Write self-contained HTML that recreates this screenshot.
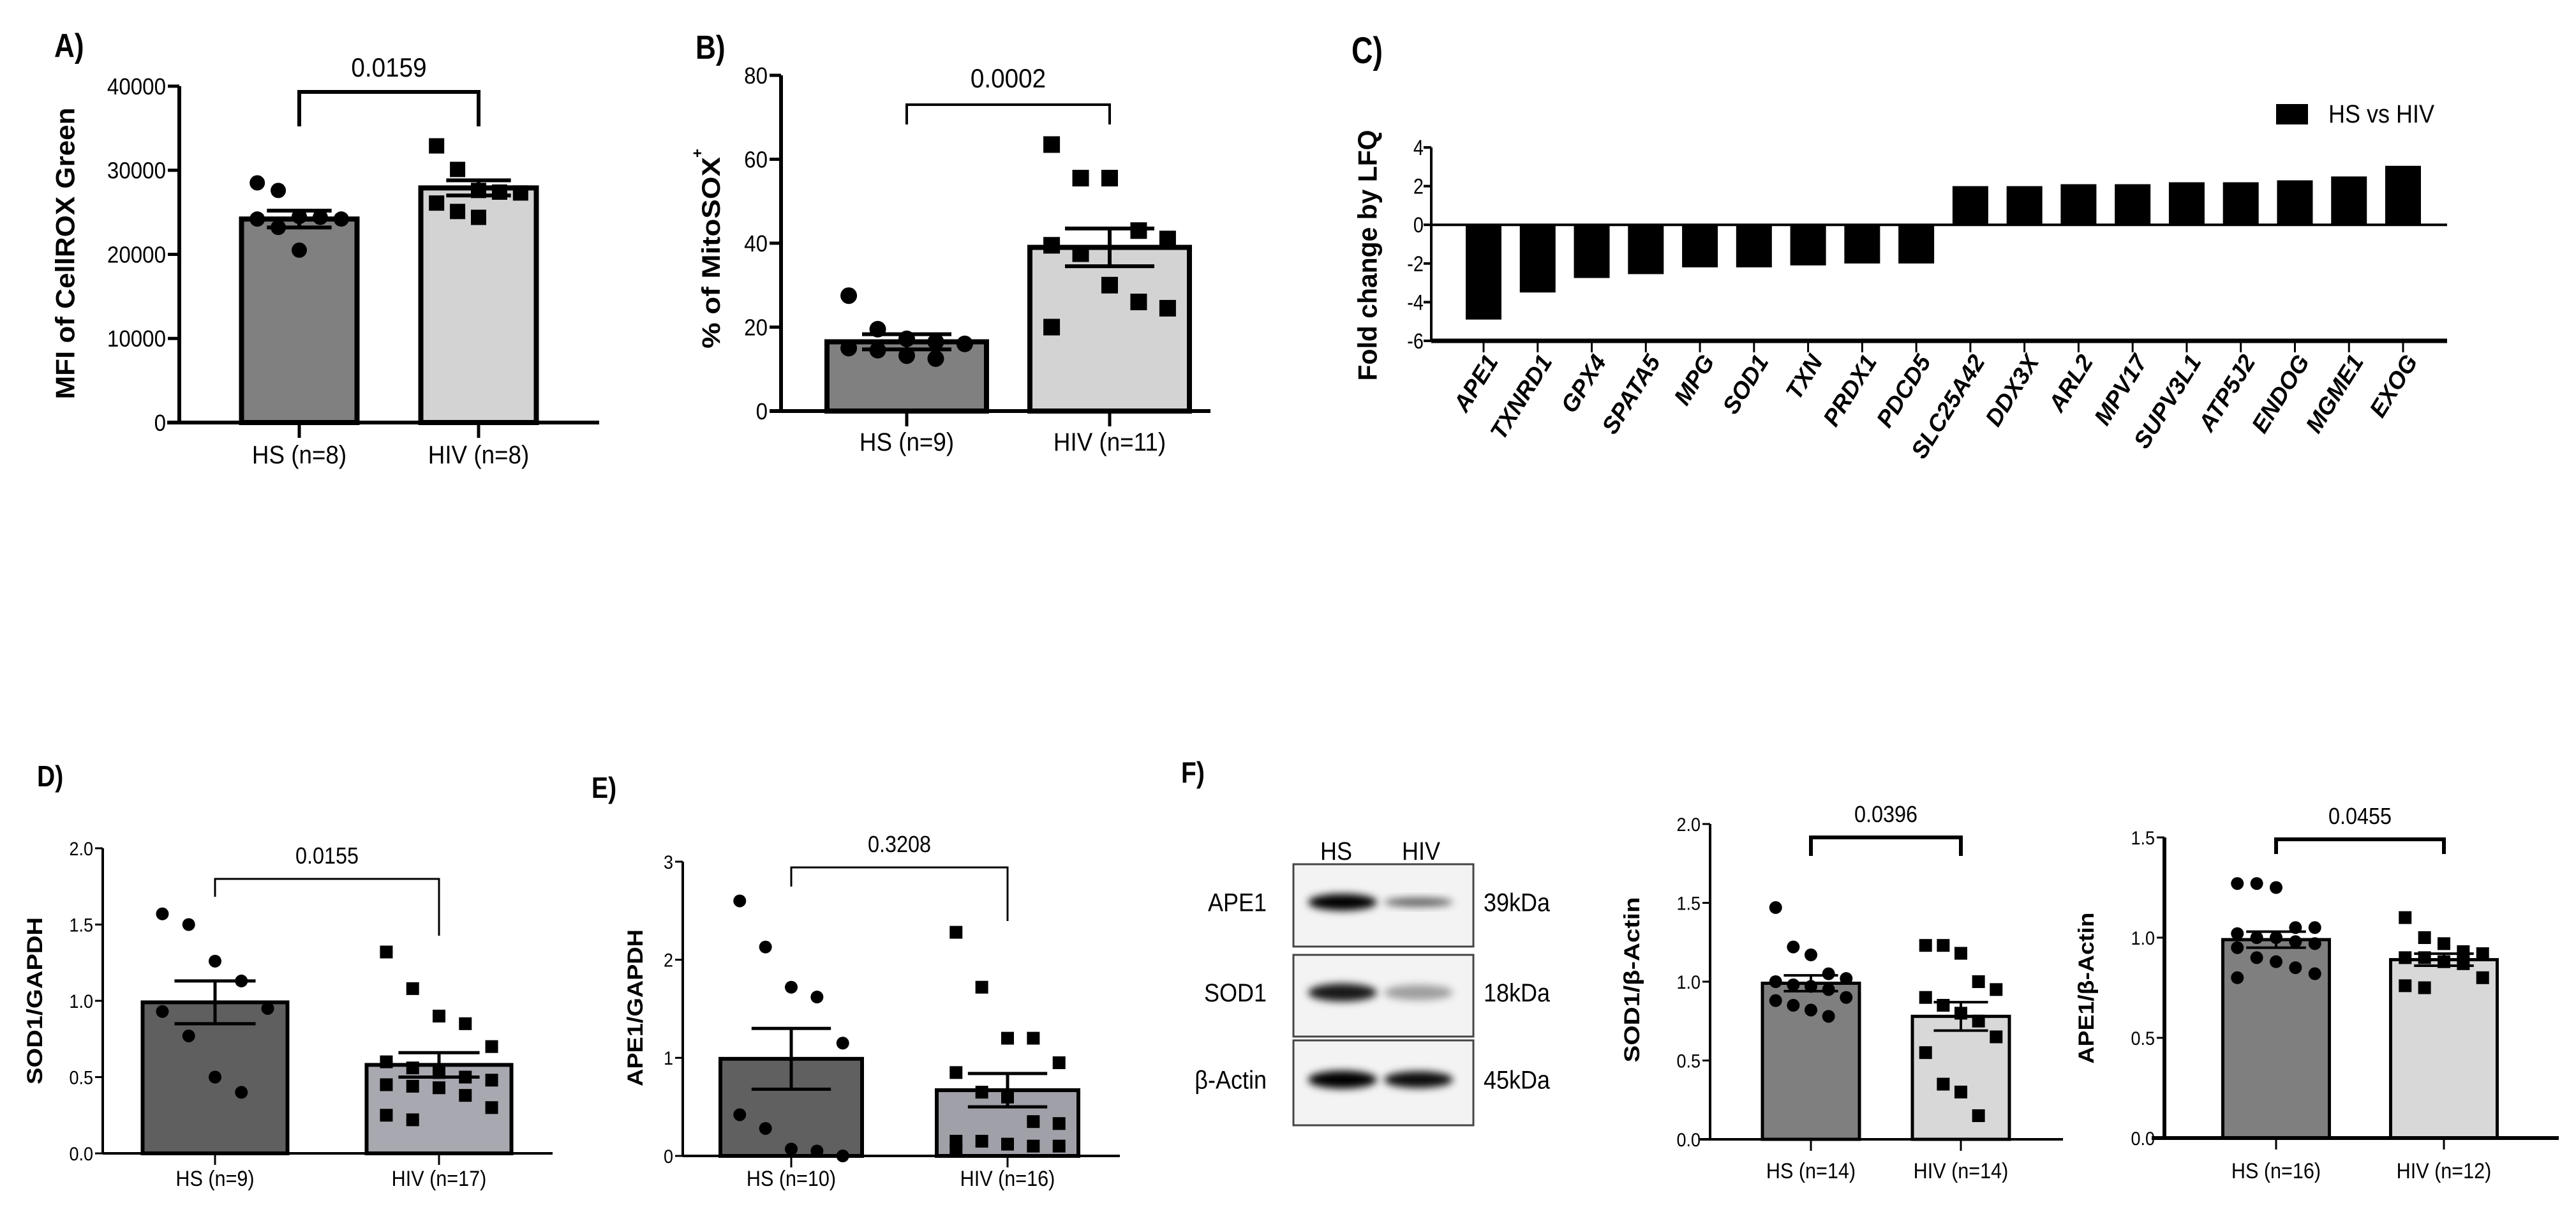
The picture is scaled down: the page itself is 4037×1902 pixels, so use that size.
<!DOCTYPE html>
<html><head><meta charset="utf-8"><style>
html,body{margin:0;padding:0;background:#fff;overflow:hidden;}
svg{display:block;}
text{font-family:"Liberation Sans",sans-serif;fill:#000;}
</style></head><body>
<svg id="fig" width="4037" height="1902" viewBox="0 0 4037 1902" xmlns="http://www.w3.org/2000/svg">
<defs><filter id="blur" x="-20%" y="-60%" width="140%" height="220%"><feGaussianBlur stdDeviation="6"/></filter></defs>
</svg>
<script>
// ---------- data ----------
const aCategories=['HS (n=8)','HIV (n=8)'];
const aMeans=[24200,27900];
const aSEM=[1000,900];
const aHS=[28500,27600,24500,24400,24200,24200,23200,20500];
const aHIV=[32900,30100,27600,27400,27300,26100,25100,24400];
const aTicks=[0,10000,20000,30000,40000];
const aP='0.0159';

const bCategories=['HS (n=9)','HIV (n=11)'];
const bMeans=[16.5,39.0];
const bSEM=[1.8,4.5];
const bHS=[27.5,19.5,17.2,16.5,16.0,15.0,14.5,13.2,12.5];
const bHIV=[63.5,55.5,55.5,43.0,41.0,39.5,37.5,30.0,26.0,24.5,20.0];
const bTicks=[0,20,40,60,80];
const bP='0.0002';

const cGenes=['APE1','TXNRD1','GPX4','SPATA5','MPG','SOD1','TXN','PRDX1','PDCD5','SLC25A42','DDX3X','ARL2','MPV17','SUPV3L1','ATP5J2','ENDOG','MGME1','EXOG'];
const cFold=[-4.9,-3.5,-2.75,-2.55,-2.2,-2.2,-2.1,-2.0,-2.0,2.0,2.0,2.1,2.1,2.2,2.2,2.3,2.5,3.05];
const cTicks=[-6,-4,-2,0,2,4];

const dCategories=['HS (n=9)','HIV (n=17)'];
const dMeans=[0.99,0.58];
const dSEM=[0.14,0.08];
const dHS=[1.57,1.5,1.26,1.13,0.95,0.93,0.77,0.5,0.4];
const dHIV=[1.32,1.08,0.9,0.85,0.7,0.6,0.56,0.53,0.5,0.48,0.45,0.44,0.43,0.38,0.3,0.25,0.22];
const dTicks=[0,0.5,1.0,1.5,2.0];
const dP='0.0155';

const eCategories=['HS (n=10)','HIV (n=16)'];
const eMeans=[0.99,0.67];
const eSEM=[0.31,0.17];
const eHS=[2.6,2.13,1.72,1.62,1.15,0.42,0.28,0.07,0.05,0.0];
const eHIV=[2.28,1.72,1.2,1.2,0.95,0.85,0.65,0.6,0.35,0.33,0.15,0.15,0.12,0.1,0.1,0.05];
const eTicks=[0,1,2,3];
const eP='0.3208';

const f1Categories=['HS (n=14)','HIV (n=14)'];
const f1Means=[0.99,0.78];
const f1SEM=[0.05,0.09];
const f1HS=[1.47,1.22,1.17,1.05,1.02,1.0,0.98,0.97,0.95,0.9,0.88,0.85,0.82,0.78];
const f1HIV=[1.23,1.23,1.18,1.0,0.95,0.9,0.85,0.8,0.75,0.65,0.55,0.35,0.3,0.15];
const f1Ticks=[0,0.5,1.0,1.5,2.0];
const f1P='0.0396';

const f2Categories=['HS (n=16)','HIV (n=12)'];
const f2Means=[0.99,0.89];
const f2SEM=[0.04,0.03];
const f2HS=[1.27,1.27,1.25,1.05,1.05,1.02,1.0,1.0,0.98,0.97,0.95,0.9,0.88,0.85,0.82,0.8];
const f2HIV=[1.1,1.0,0.97,0.93,0.92,0.9,0.9,0.88,0.87,0.8,0.76,0.75];
const f2Ticks=[0,0.5,1.0,1.5];
const f2P='0.0455';

// ---------- helpers ----------
const svg=document.getElementById('fig');
const NS='http://www.w3.org/2000/svg';
function mk(tag,attrs,parent){const e=document.createElementNS(NS,tag);for(const k in attrs)e.setAttribute(k,attrs[k]);(parent||svg).appendChild(e);return e;}
function ctext(g,x,y,str,size,sx,anchor,weight){
  const t=mk('text',{transform:`translate(${x},${y}) scale(${sx},1)`,'font-size':size,'text-anchor':anchor||'middle','font-weight':weight||'normal'},g);
  t.textContent=str;return t;
}
function ylabel(g,x,cy,str,size,len){
  const t=mk('text',{transform:`translate(${x},${cy}) rotate(-90)`,'font-size':size,'text-anchor':'middle','dominant-baseline':'central','font-weight':'bold',textLength:len,lengthAdjust:'spacingAndGlyphs'},g);
  t.textContent=str;return t;
}
function fmt(v,dec){return dec?v.toFixed(dec):String(v);}

function barPanel(name,G,cats,means,sems,hs,hiv,ticks,p){
  const g=mk('g',{});
  
  
  const vmin=ticks[0],vmax=ticks[ticks.length-1];
  const Y=v=>G.base-(v-vmin)/(vmax-vmin)*(G.base-G.top);
  [0,1].forEach(i=>{
    const r=mk('rect',{x:G.centers[i]-G.barW/2,y:Y(means[i]),width:G.barW,height:G.base-Y(means[i]),fill:G.fills[i],stroke:'#000','stroke-width':G.bs},g);
    
    
  });
  [hs,hiv].forEach((vals,i)=>{
    vals.forEach((v,k)=>{
      const off=((k%5)-2)*G.barW/5.5;
      const cx=G.centers[i]+off, cy=Y(v);
      let m;
      if(i===0) m=mk('circle',{cx:cx,cy:cy,r:G.r,fill:'#000'},g);
      else m=mk('rect',{x:cx-G.r,y:cy-G.r,width:2*G.r,height:2*G.r,fill:'#000'},g);
      
      
    });
  });
  [0,1].forEach(i=>{
    const c=G.centers[i],w=G.barW*0.28;
    const e=mk('path',{d:`M${c},${Y(means[i]-sems[i])}V${Y(means[i]+sems[i])}M${c-w},${Y(means[i]+sems[i])}H${c+w}M${c-w},${Y(means[i]-sems[i])}H${c+w}`,stroke:'#000','stroke-width':G.es,fill:'none'},g);
    
    
  });
  const ax=mk('path',{d:`M${G.axisX},${G.top}V${G.base}M${G.xa[0]},${G.base}H${G.xa[1]}`,stroke:'#000','stroke-width':G.as,fill:'none'},g);
  
  
  ticks.forEach(t=>{
    mk('line',{x1:G.axisX-G.tl,x2:G.axisX,y1:Y(t),y2:Y(t),stroke:'#000','stroke-width':G.ts},g);
    const lb=ctext(g,G.axisX-G.tl-3,Y(t)+G.tf*0.36,fmt(t,G.dec),G.tf,G.tsx,'end');
    
    
  });
  [0,1].forEach(i=>{
    mk('line',{x1:G.centers[i],x2:G.centers[i],y1:G.base,y2:G.base+G.tl+6,stroke:'#000','stroke-width':G.ts},g);
    const lb=ctext(g,G.centers[i],G.xly,cats[i],G.xf,G.tsx,'middle');
    
    
  });
  const br=mk('path',{d:`M${G.centers[0]},${G.legs[0]}V${G.by}H${G.centers[1]}V${G.legs[1]}`,stroke:'#000','stroke-width':G.bks,fill:'none'},g);
  
  
  const pt=ctext(g,(G.centers[0]+G.centers[1])/2,G.py,p,G.pf,G.tsx,'middle');
  
  
  const yl=ylabel(g,G.ylx,G.ylc,G.yl,G.ylf,G.yll);
  
  
  if(G.letter){
    const lt=ctext(g,G.letter[0],G.letter[1],G.letter[2],G.letter[3],0.85,'start','bold');
    
    
  }
  return g;
}

// A
barPanel('panel-a',{axisX:281,base:662,top:135,centers:[469,750],barW:181,xa:[262,939],fills:['#808080','#d3d3d3'],bs:8,es:6,as:6,ts:5,tl:18,r:12,tf:36,tsx:0.92,dec:0,xly:726,xf:40,by:144,legs:[198,198],bks:6,py:120,pf:42,ylx:102,ylc:397,yl:'MFI of CellROX  Green',ylf:42,yll:457,letter:[85,89,'A)',52]},aCategories,aMeans,aSEM,aHS,aHIV,aTicks,aP);
// B
const pb=barPanel('panel-b',{axisX:1224,base:644,top:118,centers:[1421,1739],barW:250,xa:[1206,1897],fills:['#808080','#d3d3d3'],bs:8,es:6,as:6,ts:5,tl:18,r:13,tf:36,tsx:0.92,dec:0,xly:706,xf:40,by:164,legs:[195,195],bks:4,py:137,pf:42,ylx:1115,ylc:396,yl:'%  of  MitoSOX',ylf:40,yll:300,letter:[1090,92,'B)',52]},bCategories,bMeans,bSEM,bHS,bHIV,bTicks,bP);
const sup=mk('text',{transform:'translate(1101,240) rotate(-90)','font-size':24,'font-weight':'bold','text-anchor':'middle'},pb);
sup.textContent='+';


// D
barPanel('panel-d',{axisX:161,base:1807,top:1329,centers:[337,688],barW:227,xa:[161,866],fills:['#5f5f5f','#a8a8b0'],bs:6,es:5,as:4,ts:3,tl:12,r:10,tf:30,tsx:0.9,dec:1,xly:1858,xf:34,by:1377,legs:[1405,1466],bks:3,py:1353,pf:36,ylx:55,ylc:1568,yl:'SOD1/GAPDH',ylf:34,yll:262,letter:[58,1232,'D)',46]},dCategories,dMeans,dSEM,dHS,dHIV,dTicks,dP);
// E
barPanel('panel-e',{axisX:1070,base:1811,top:1350,centers:[1240,1579],barW:222,xa:[1070,1755],fills:['#606060','#a0a0a8'],bs:6,es:5,as:4,ts:3,tl:12,r:10,tf:30,tsx:0.9,dec:0,xly:1858,xf:34,by:1359,legs:[1389,1443],bks:3,py:1335,pf:36,ylx:996,ylc:1579,yl:'APE1/GAPDH',ylf:34,yll:246,letter:[927,1250,'E)',46]},eCategories,eMeans,eSEM,eHS,eHIV,eTicks,eP);
// F1
barPanel('panel-f-sod1',{axisX:2680,base:1785,top:1291,centers:[2838,3073],barW:152,xa:[2663,3233],fills:['#7f7f7f','#d8d8d8'],bs:5,es:4,as:4,ts:3,tl:12,r:10,tf:30,tsx:0.9,dec:1,xly:1846,xf:34,by:1312,legs:[1341,1341],bks:6,py:1288,pf:36,ylx:2558,ylc:1535,yl:'SOD1/β-Actin',ylf:34,yll:259},f1Categories,f1Means,f1SEM,f1HS,f1HIV,f1Ticks,f1P);
// F2
barPanel('panel-f-ape1',{axisX:3392,base:1783,top:1312,centers:[3567,3830],barW:167,xa:[3372,4010],fills:['#7f7f7f','#d8d8d8'],bs:5,es:4,as:6,ts:3,tl:12,r:10,tf:30,tsx:0.9,dec:1,xly:1846,xf:34,by:1315,legs:[1338,1338],bks:6,py:1291,pf:36,ylx:3270,ylc:1548,yl:'APE1/β-Actin',ylf:34,yll:237},f2Categories,f2Means,f2SEM,f2HS,f2HIV,f2Ticks,f2P);

// ---------- Panel C ----------
(function(){
  const g=mk('g',{});
  
  
  const axisX=2243,top=231,base=534,vmin=cTicks[0],vmax=cTicks[cTicks.length-1];
  const Y=v=>base-(v-vmin)/(vmax-vmin)*(base-top);
  const x0=2325,step=(3766-2325)/(cGenes.length-1),bw=56;
  const X=i=>x0+i*step;
  cFold.forEach((v,i)=>{
    const y1=Math.min(Y(v),Y(0)),h=Math.abs(Y(v)-Y(0));
    const r=mk('rect',{x:X(i)-bw/2,y:y1,width:bw,height:h,fill:'#000'},g);
    
    
  });
  const ax=mk('path',{d:`M${axisX},${top}V${base}M${axisX},${Y(0)}H3835`,stroke:'#000','stroke-width':4,fill:'none'},g);
  
  
  mk('line',{x1:axisX,x2:3835,y1:base,y2:base,stroke:'#000','stroke-width':7},g);
  cTicks.forEach(t=>{
    mk('line',{x1:axisX-12,x2:axisX,y1:Y(t),y2:Y(t),stroke:'#000','stroke-width':4},g);
    const lb=ctext(g,axisX-12,Y(t)+12,String(t),34,0.85,'end');
    
    
  });
  cGenes.forEach((n,i)=>{
    mk('line',{x1:X(i),x2:X(i),y1:base,y2:base+18,stroke:'#000','stroke-width':3},g);
    const t=mk('text',{transform:`translate(${X(i)+24},${base+32}) rotate(-58)`,'font-size':37,'font-style':'italic','font-weight':'bold','text-anchor':'end'},g);
    t.textContent=n;
    
    
  });
  const yl=ylabel(g,2143,400,'Fold change by LFQ',42,393);
  
  
  const lg=mk('rect',{x:3567,y:163,width:50,height:32,fill:'#000'},g);
  
  
  const lt=ctext(g,3649,192,'HS vs HIV',40,0.9,'start');
  
  
  const le=ctext(g,2118,99,'C)',58,0.8,'start','bold');
  
  
})();

// ---------- Western blot ----------
(function(){
  const g=mk('g',{});
  
  
  const boxes=[[1354,1483,'APE1','39kDa',[1,0.6],[26,14]],[1496,1624,'SOD1','18kDa',[0.9,0.35],[28,24]],[1630,1763,'β-Actin','45kDa',[1,0.95],[28,26]]];
  boxes.forEach(b=>{
    const r=mk('rect',{x:2027,y:b[0],width:282,height:b[1]-b[0],fill:'#f3f3f3',stroke:'#444','stroke-width':3},g);
    
    
    const cy=(b[0]+b[1])/2-5;
    [[2104,b[4][0],b[5][0]],[2223,b[4][1],b[5][1]]].forEach(l=>{
      const e=mk('ellipse',{cx:l[0],cy:cy,rx:54,ry:l[2]/2,fill:'#000','fill-opacity':l[1],filter:'url(#blur)'},g);
      
      
    });
    const ll=ctext(g,1985,cy+14,b[2],40,0.9,'end');
    
    
    const kd=ctext(g,2325,cy+14,b[3],40,0.9,'start');
    
    
  });
  const h1=ctext(g,2094,1347,'HS',40,0.9,'middle');
  
  
  const h2=ctext(g,2227,1347,'HIV',40,0.9,'middle');
  
  
  const lt=ctext(g,1851,1226,'F)',46,0.85,'start','bold');
  
  
})();
</script>
</body></html>
